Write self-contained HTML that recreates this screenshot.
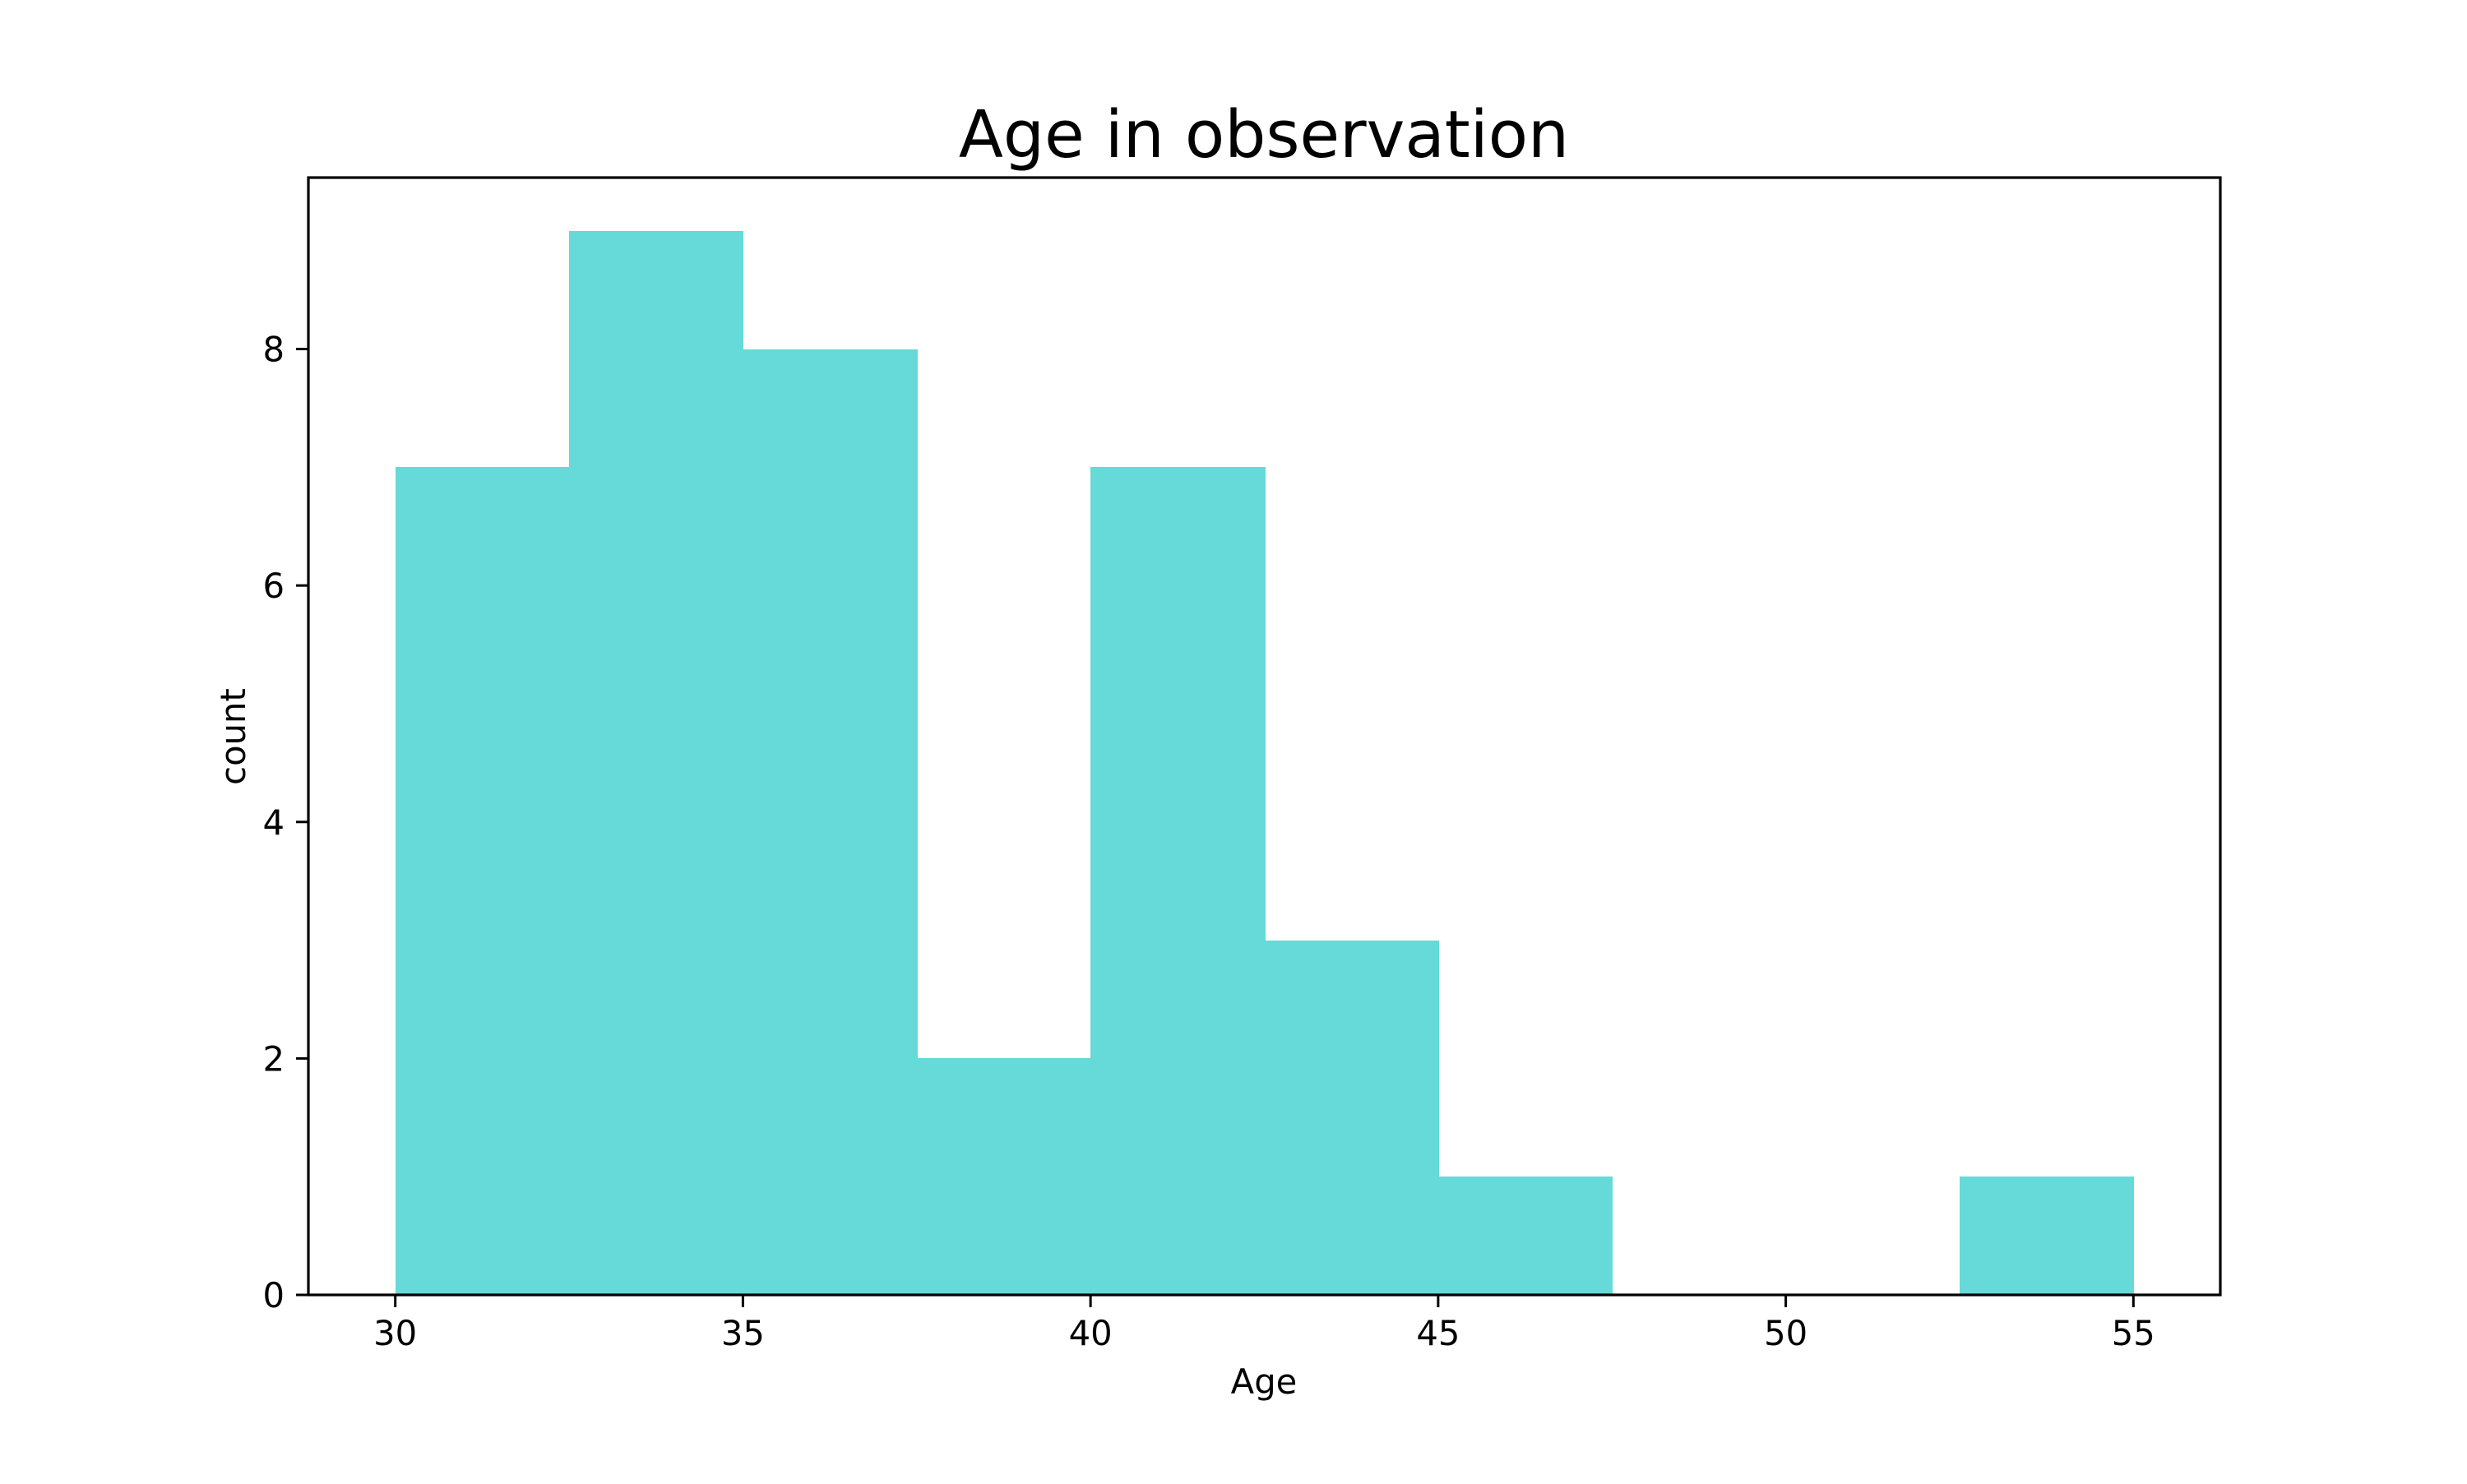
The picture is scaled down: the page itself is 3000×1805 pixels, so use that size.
<!DOCTYPE html>
<html><head><meta charset="utf-8"><style>
body{margin:0;background:#fff}
svg text{font-family:"DejaVu Sans","Liberation Sans",sans-serif;fill:#000}
</style></head><body>
<svg width="3000" height="1800" viewBox="0 0 3000 1800">
<rect width="3000" height="1800" fill="#fff"/>
<g id="bars" shape-rendering="crispEdges"></g>
<g id="axes"></g>
<text x="1537" y="191" font-size="79" text-anchor="middle">Age in observation</text>
<text x="1537" y="1695" font-size="41.7" text-anchor="middle">Age</text>
<text transform="translate(298,896) rotate(-90)" font-size="41.7" text-anchor="middle">count</text>
</svg>
<script>
const binEdges=[30,32.5,35,37.5,40,42.5,45,47.5,50,52.5,55];
const counts=[7,9,8,2,7,3,1,0,0,1];
const xTicks=[30,35,40,45,50,55];
const yTicks=[0,2,4,6,8];
const L=375,R=2700,T=216,B=1575;
const xmin=binEdges[0],xmax=binEdges[binEdges.length-1],pad=(xmax-xmin)*0.05;
const ymax=Math.max(...counts)*1.05;
function sx(v){return L+(v-(xmin-pad))/((xmax-xmin)+2*pad)*(R-L);}
function sy(v){return B-v/ymax*(B-T);}
const NS="http://www.w3.org/2000/svg";
const bars=document.getElementById('bars'),axes=document.getElementById('axes');
counts.forEach((c,i)=>{
 if(c<=0)return;
 const r=document.createElementNS(NS,'rect');
 const x0=Math.round(sx(binEdges[i])),x1=Math.round(sx(binEdges[i+1])),y0=Math.round(sy(c));
 r.setAttribute('x',x0);r.setAttribute('width',x1-x0+1);
 r.setAttribute('y',y0);r.setAttribute('height',B-y0);r.setAttribute('fill','#66d9d9');
 
 
 bars.appendChild(r);
});
const frame=document.createElementNS(NS,'rect');
frame.setAttribute('x',L);frame.setAttribute('y',T);frame.setAttribute('width',R-L);frame.setAttribute('height',B-T);
frame.setAttribute('fill','none');frame.setAttribute('stroke','#000');frame.setAttribute('stroke-width','3.2');


axes.appendChild(frame);
xTicks.forEach(v=>{
 const x=sx(v);
 const l=document.createElementNS(NS,'line');
 l.setAttribute('x1',x);l.setAttribute('x2',x);l.setAttribute('y1',B);l.setAttribute('y2',B+15);
 l.setAttribute('stroke','#000');l.setAttribute('stroke-width','3');
 
 
 axes.appendChild(l);
 const t=document.createElementNS(NS,'text');
 t.setAttribute('x',x);t.setAttribute('y',B+61);t.setAttribute('font-size','41.7');t.setAttribute('text-anchor','middle');
 t.textContent=v;
 
 
 axes.appendChild(t);
});
yTicks.forEach(v=>{
 const y=sy(v);
 const l=document.createElementNS(NS,'line');
 l.setAttribute('x1',L-15);l.setAttribute('x2',L);l.setAttribute('y1',y);l.setAttribute('y2',y);
 l.setAttribute('stroke','#000');l.setAttribute('stroke-width','3');
 
 
 axes.appendChild(l);
 const t=document.createElementNS(NS,'text');
 t.setAttribute('x',L-29);t.setAttribute('y',y+15);t.setAttribute('font-size','41.7');t.setAttribute('text-anchor','end');
 t.textContent=v;
 
 
 axes.appendChild(t);
});
</script>
</body></html>
